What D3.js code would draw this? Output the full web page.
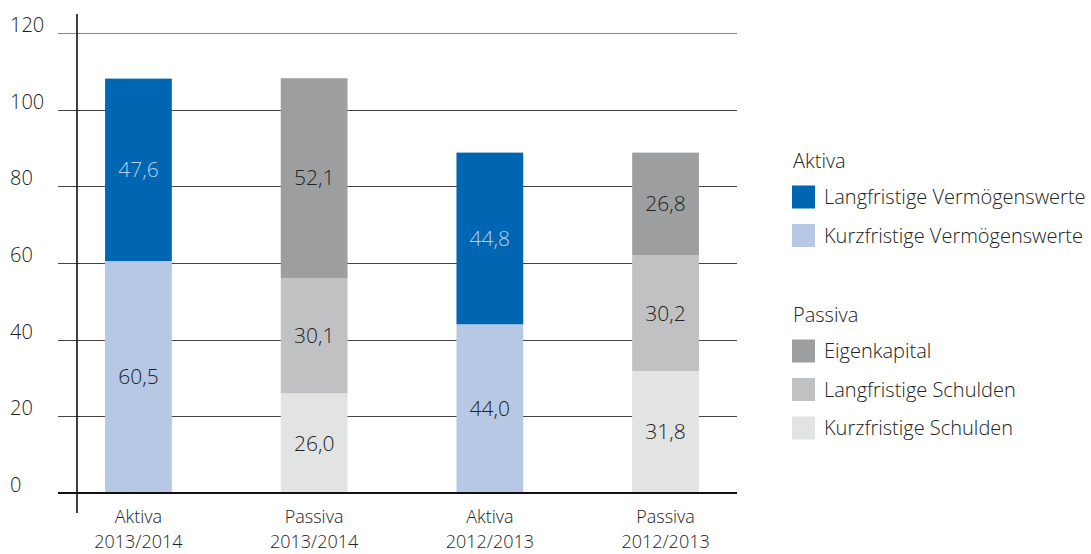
<!DOCTYPE html>
<html>
<head>
<meta charset="utf-8">
<script src="https://cdn.jsdelivr.net/npm/d3@7"></script>
<style>
  body { margin: 0; background: #fff; }
  text { font-family: "Open Sans", sans-serif; font-weight: 300; fill: #222; }
</style>
</head>
<body>
<div id="chart"></div>
<script>
// bars, bottom segment first
const categories = ["Aktiva 2013/2014", "Passiva 2013/2014", "Aktiva 2012/2013", "Passiva 2012/2013"];
const categoryLines = [["Aktiva", "2013/2014"], ["Passiva", "2013/2014"], ["Aktiva", "2012/2013"], ["Passiva", "2012/2013"]];

const aktivaSeries = ["Langfristige Vermögenswerte", "Kurzfristige Vermögenswerte"];
const passivaSeries = ["Eigenkapital", "Langfristige Schulden", "Kurzfristige Schulden"];

const kurzVermoegen = [60.5, null, 44.0, null];
const langVermoegen = [47.6, null, 44.8, null];
const kurzSchulden = [null, 26.0, null, 31.8];
const langSchulden = [null, 30.1, null, 30.2];
const eigenkapital = [null, 52.1, null, 26.8];

const yTicks = [0, 20, 40, 60, 80, 100, 120];

const colors = {
  "Langfristige Vermögenswerte": "#0066b2",
  "Kurzfristige Vermögenswerte": "#b6c8e4",
  "Eigenkapital": "#9d9ea0",
  "Langfristige Schulden": "#c0c1c3",
  "Kurzfristige Schulden": "#e2e3e3"
};

const width = 1091;
const height = 554;

const svg = d3.select("#chart").append("svg")
  .attr("width", width)
  .attr("height", height);

const xScale = d3.scaleBand()
  .domain(categories)
  .range([50.6, 753.4])
  .paddingInner(0.62)
  .paddingOuter(0.31);

const yScale = d3.scaleLinear()
  .domain([0, 120])
  .range([493, 33]);

// gridlines
svg.append("g").selectAll("line")
  .data(yTicks.filter(d => d > 0))
  .join("line")
  .attr("x1", 58).attr("x2", 737)
  .attr("y1", d => Math.round(yScale(d)) + 0.5)
  .attr("y2", d => Math.round(yScale(d)) + 0.5)
  .attr("stroke", d => d === 120 ? "#888" : "#444")
  .attr("stroke-width", 1);

// tick labels, left aligned above line
svg.append("g").selectAll("text")
  .data(yTicks)
  .join("text")
  .attr("x", 10)
  .attr("y", d => yScale(d) - 1)
  .style("font-size", "20px")
  .text(d => d);

// build stacked segments
const segments = [];
categories.forEach((c, i) => {
  const stack = [
    ["Kurzfristige Vermögenswerte", kurzVermoegen[i]],
    ["Langfristige Vermögenswerte", langVermoegen[i]],
    ["Kurzfristige Schulden", kurzSchulden[i]],
    ["Langfristige Schulden", langSchulden[i]],
    ["Eigenkapital", eigenkapital[i]]
  ].filter(d => d[1] != null);
  let y0 = 0;
  stack.forEach(([name, v]) => {
    segments.push({cat: c, name: name, y0: y0, y1: y0 + v, value: v});
    y0 += v;
  });
});

const g = svg.append("g");

g.selectAll("rect")
  .data(segments)
  .join("rect")
  .attr("x", d => xScale(d.cat))
  .attr("width", xScale.bandwidth())
  .attr("y", d => yScale(d.y1))
  .attr("height", d => yScale(d.y0) - yScale(d.y1))
  .attr("fill", d => colors[d.name]);

g.selectAll("text")
  .data(segments)
  .join("text")
  .attr("x", d => xScale(d.cat) + xScale.bandwidth() / 2)
  .attr("y", d => yScale((d.y0 + d.y1) / 2))
  .attr("dy", "0.35em")
  .attr("text-anchor", "middle")
  .style("font-size", "21px")
  .style("fill", d => d.name === "Langfristige Vermögenswerte" ? "#b8cfea" : "#222")
  .text(d => d.value.toFixed(1).replace(".", ","));

// baseline and y axis
svg.append("line")
  .attr("x1", 58).attr("x2", 737)
  .attr("y1", yScale(0)).attr("y2", yScale(0))
  .attr("stroke", "#111").attr("stroke-width", 2);

svg.append("line")
  .attr("x1", 77).attr("x2", 77)
  .attr("y1", 14).attr("y2", 513)
  .attr("stroke", "#111").attr("stroke-width", 1.6);

// category labels, two lines each
const catLabels = svg.append("g");
categories.forEach((c, i) => {
  categoryLines[i].forEach((line, k) => {
    catLabels.append("text")
      .attr("x", xScale(c) + xScale.bandwidth() / 2)
      .attr("y", 523 + k * 25)
      .attr("text-anchor", "middle")
      .style("font-size", "18px")
      .text(line);
  });
});

// legend
const legend = svg.append("g").attr("transform", "translate(792, 0)");
const legendGroups = [
  {title: "Aktiva", y: 168, items: aktivaSeries},
  {title: "Passiva", y: 322, items: passivaSeries}
];
legendGroups.forEach(grp => {
  legend.append("text")
    .attr("x", 1).attr("y", grp.y)
    .style("font-size", "20px")
    .text(grp.title);
  grp.items.forEach((name, k) => {
    const cy = grp.y + 29 + k * 38.5;
    legend.append("rect")
      .attr("x", 0).attr("y", cy - 11.5)
      .attr("width", 23).attr("height", 23)
      .attr("fill", colors[name]);
    legend.append("text")
      .attr("x", 32).attr("y", cy)
      .attr("dy", "0.35em")
      .style("font-size", "20px")
      .text(name);
  });
});
</script>
</body>
</html>
